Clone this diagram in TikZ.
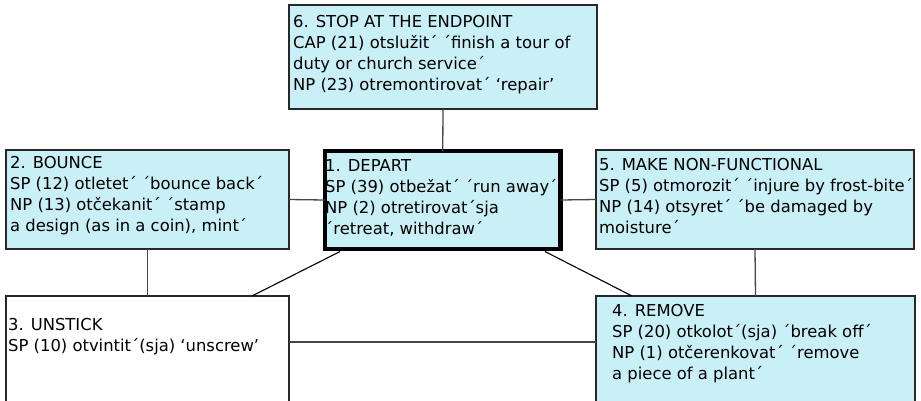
\documentclass[tikz,border=0pt]{standalone}
\usepackage{fontspec}
\setmainfont{DejaVu Sans}
\usetikzlibrary{calc}
\definecolor{boxcyan}{RGB}{201,240,247}
\definecolor{edgegray}{RGB}{40,40,40}
\definecolor{linkgray}{RGB}{70,70,70}
\tikzset{
  senseframe/.style={draw=edgegray, line width=1.2pt, fill=boxcyan, rectangle,
    inner sep=0pt, outer sep=0pt, anchor=north west},
  plainframe/.style={senseframe, fill=white},
  coreframe/.style={senseframe, draw=black, line width=4.5pt},
  % base anchor of a multi-line node sits on its last line
  sensetext/.style={anchor=base west, inner sep=0pt, align=left,
    font=\fontsize{16.4pt}{21pt}\selectfont},
  link/.style={draw=linkgray, line width=1.3pt},
  slant/.style={draw=black, line width=1.1pt}
}
\begin{document}
\begin{tikzpicture}[x=1pt,y=-1pt]
  \useasboundingbox (0,0) rectangle (921,400);
  \clip (0,0) rectangle (921,400);

  % frames of the six senses
  \node[senseframe, minimum width=308pt, minimum height=104pt] (b6) at (289,5) {};
  \node[senseframe, minimum width=283pt, minimum height=99pt] (b2) at (6,150) {};
  \node[senseframe, minimum width=318pt, minimum height=99pt] (b5) at (596,150) {};
  \node[plainframe, minimum width=283pt, minimum height=120pt] (b3) at (6,296) {};
  \node[senseframe, minimum width=319pt, minimum height=120pt] (b4) at (596,296) {};
  \node[coreframe, minimum width=235.5pt, minimum height=98pt] (b1) at (325,151) {};

  % links between the senses
  \draw[link] (b6.south) -- (b1.north);
  \draw[link] (b2.east) -- (b1.west);
  \draw[link] (b1.east) -- (b5.west);
  \draw[link] (b2.south) -- (b3.north);
  \draw[link] (b5.south) -- (b4.north);
  \draw[link] ($(b3.north east)+(0,46)$) -- ($(b4.north west)+(0,46)$);
  \draw[slant] ($(b1.south west)!0.064!(b1.south east)+(0,2.5)$) -- ($(b3.north west)!0.869!(b3.north east)$);
  \draw[slant] ($(b1.south west)!0.934!(b1.south east)+(0,2.5)$) -- ($(b4.north west)!0.113!(b4.north east)$);

  % texts
  \node[sensetext] (t6) at (293,90) {6. STOP AT THE ENDPOINT\\CAP (21) otslužit´ ´finish a tour of\\duty or church service´\\NP (23) otremontirovat´ ‘repair’};
  \node[sensetext] (t2) at (10,231) {2. BOUNCE\\SP (12) otletet´ ´bounce back´\\NP (13) otčekanit´ ´stamp\\a design (as in a coin), mint´};
  \node[sensetext] (t1) at (325,234) {1. DEPART\\SP (39) otbežat´ ´run away´\\NP (2) otretirovat´sja\\´retreat, withdraw´};
  \node[sensetext] (t5) at (599,233) {5. MAKE NON-FUNCTIONAL\\SP (5) otmorozit´ ´injure by frost-bite´\\NP (14) otsyret´ ´be damaged by\\moisture´};
  \node[sensetext] (t3) at (8,351) {3. UNSTICK\\SP (10) otvintit´(sja) ‘unscrew’};
  \node[sensetext] (t4) at (612,379) {4. REMOVE\\SP (20) otkolot´(sja) ´break off´\\NP (1) otčerenkovat´ ´remove\\a piece of a plant´};
\end{tikzpicture}
\end{document}
